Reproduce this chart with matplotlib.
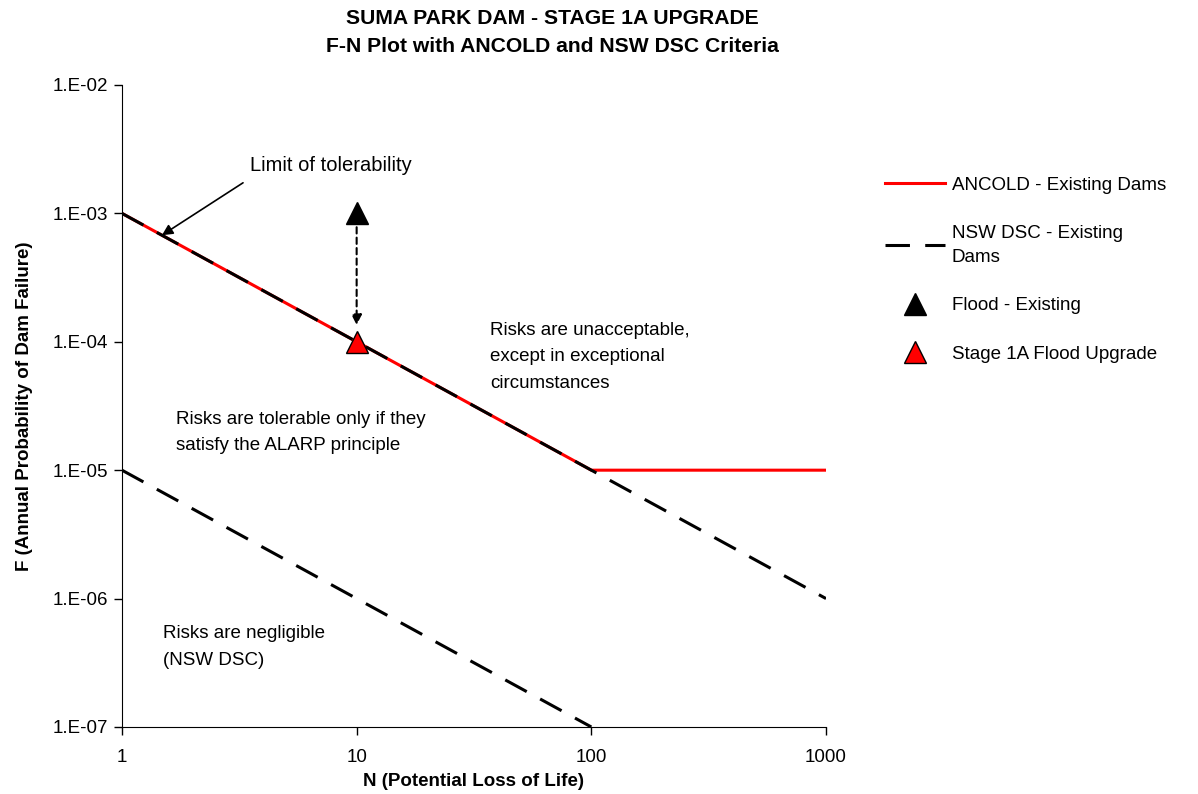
import numpy as np
import matplotlib
matplotlib.use("Agg")
import matplotlib.pyplot as plt

plt.rcParams['font.family'] = ['Liberation Sans', 'DejaVu Sans']

# F-N criteria lines
ancold_n = [1, 100, 1000]
ancold_f = [1e-3, 1e-5, 1e-5]
nsw_upper_n = [1, 1000]
nsw_upper_f = [1e-3, 1e-6]
nsw_lower_n = [1, 100]
nsw_lower_f = [1e-5, 1e-7]

# risk points
flood_n = [10]
flood_f = [1e-3]
upgrade_n = [10]
upgrade_f = [1e-4]

yticks = [1e-7, 1e-6, 1e-5, 1e-4, 1e-3, 1e-2]
ytick_labels = ['1.E-07', '1.E-06', '1.E-05', '1.E-04', '1.E-03', '1.E-02']
xticks = [1, 10, 100, 1000]
xtick_labels = ['1', '10', '100', '1000']

fs = 13.5

fig = plt.figure(figsize=(11.98, 7.94), dpi=100)
ax = fig.add_axes([0.1018, 0.0844, 0.5877, 0.8086])

ax.plot(ancold_n, ancold_f, color='#ff0000', lw=2.2, label='ANCOLD - Existing Dams', zorder=2)
ax.plot(nsw_upper_n, nsw_upper_f, color='black', lw=2.2, dashes=(8, 5),
        label='NSW DSC - Existing\nDams', zorder=3)
ax.plot(nsw_lower_n, nsw_lower_f, color='black', lw=2.2, dashes=(8, 5), zorder=3)

ax.plot(flood_n, flood_f, ls='none', marker='^', ms=15.5, color='black',
        label='Flood - Existing', zorder=5)
ax.plot(upgrade_n, upgrade_f, ls='none', marker='^', ms=15.5, mfc='#ff0000',
        mec='black', mew=1, label='Stage 1A Flood Upgrade', zorder=5)

# dashed arrow from existing to upgrade
ax.annotate('', xy=(10, 1.35e-4), xytext=(10, 7.8e-4),
            arrowprops=dict(arrowstyle='-|>', color='black', lw=1.5, ls=(0, (3, 2)),
                            mutation_scale=15, shrinkA=0, shrinkB=0), zorder=4)

# limit of tolerability label and arrow
ax.text(3.51, 2.38e-3, 'Limit of tolerability', fontsize=14.5, ha='left', va='center')
ax.annotate('', xy=(1.48, 1e-3 / 1.48), xytext=(3.28, 1.73e-3),
            arrowprops=dict(arrowstyle='-|>', color='black', lw=1.2,
                            mutation_scale=16, shrinkA=0, shrinkB=0))

ax.text(37, 7.62e-5, 'Risks are unacceptable,\nexcept in exceptional\ncircumstances',
        fontsize=fs, ha='left', va='center', linespacing=1.7)
ax.text(1.70, 1.95e-5, 'Risks are tolerable only if they\nsatisfy the ALARP principle',
        fontsize=fs, ha='left', va='center', linespacing=1.7)
ax.text(1.50, 4.2e-7, 'Risks are negligible\n(NSW DSC)',
        fontsize=fs, ha='left', va='center', linespacing=1.7)

ax.set_xscale('log')
ax.set_yscale('log')
ax.set_xlim(1, 1000)
ax.set_ylim(1e-7, 1e-2)
ax.set_xticks(xticks)
ax.set_xticklabels(xtick_labels)
ax.set_yticks(yticks)
ax.set_yticklabels(ytick_labels)
ax.minorticks_off()
ax.tick_params(axis='both', labelsize=fs, length=6, width=1, direction='out')
ax.tick_params(axis='x', pad=10)
ax.tick_params(axis='y', pad=4)
ax.spines['top'].set_visible(False)
ax.spines['right'].set_visible(False)

ax.set_xlabel('N (Potential Loss of Life)', fontsize=fs, fontweight='bold', labelpad=5)
ax.set_ylabel('F (Annual Probability of Dam Failure)', fontsize=fs, fontweight='bold',
              labelpad=14)

fig.text(0.461, 1 - 19 / 794, 'SUMA PARK DAM - STAGE 1A UPGRADE', fontsize=15.2,
         fontweight='bold', ha='center', va='center')
fig.text(0.461, 1 - 47 / 794, 'F-N Plot with ANCOLD and NSW DSC Criteria', fontsize=15.2,
         fontweight='bold', ha='center', va='center')

leg = ax.legend(loc='upper left', bbox_to_anchor=(1.071, 0.872), frameon=False,
                fontsize=fs, handlelength=3.2, labelspacing=1.65, handletextpad=0.35,
                borderpad=0)
for t in leg.get_texts():
    t.set_linespacing(1.6)

fig.savefig('out.png', dpi=100)
